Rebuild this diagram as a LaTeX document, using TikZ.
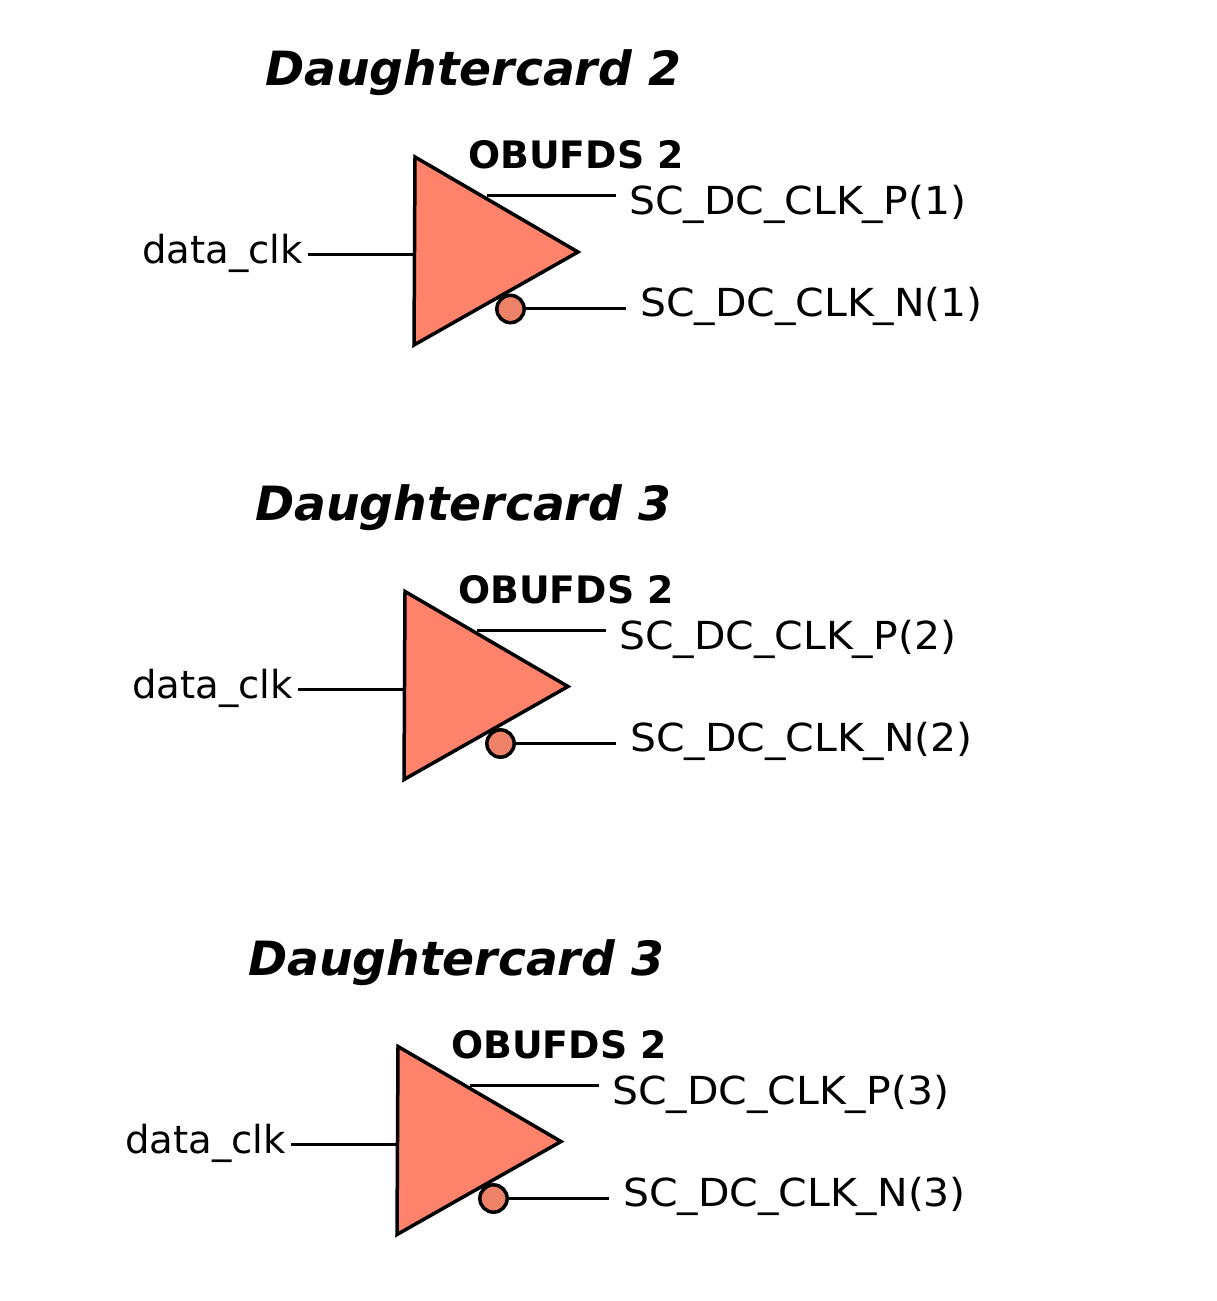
\documentclass[tikz,border=0pt]{standalone}
\usepackage{fontspec}
\setmainfont{DejaVu Sans}
\definecolor{tri}{HTML}{FF826B}
\definecolor{bub}{HTML}{EE8269}
\tikzset{x=0.75pt,y=-0.75pt,
 wire/.style={line width=3pt*0.75},
 tribox/.style={draw=black,fill=tri,line width=3.5pt*0.75,line join=miter},
 bubble/.style={circle,draw=black,fill=bub,line width=3.5pt*0.75,minimum size=20.5pt,inner sep=0pt},
 title/.style={font=\fontsize{47.2pt}{52pt}\selectfont\bfseries\itshape,inner sep=0pt,anchor=base west,scale=0.75},
 gate/.style={font=\fontsize{37.8pt}{42pt}\selectfont\bfseries,inner sep=0pt,anchor=base west,scale=0.75},
 clk/.style={font=\fontsize{38.6pt}{44pt}\selectfont,inner sep=0pt,anchor=base west,scale=0.75},
 sig/.style={font=\fontsize{38.6pt}{44pt}\selectfont,inner sep=0pt,anchor=base west,xscale=0.795,yscale=0.75}}
\newcommand{\buf}[5]{%
 % #1 prefix, #2 dx, #3 dy, #4 title, #5 index
 \begin{scope}[shift={(#2,#3)}]
 \node[title] (#1t) at (265,86) {#4};
 \node[gate] (#1g) at (468,169) {OBUFDS 2};
 \node[clk] (#1c) at (142,264) {data\_clk};
 \node[sig] (#1p) at (629,215) {SC\_DC\_CLK\_P(#5)};
 \node[sig] (#1n) at (640,317) {SC\_DC\_CLK\_N(#5)};
 \coordinate (#1a) at (308,255);
 \coordinate (#1b) at (415,255);
 \coordinate (#1c1) at (487,196);
 \coordinate (#1c2) at (616,196);
 \coordinate (#1d2) at (626,309);
 \draw[wire] (#1a) -- (#1b);
 \draw[tribox] (415,157) -- (578,252) -- (414,345) -- cycle;
 \draw[wire] (#1c1) -- (#1c2);
 \node[bubble] (#1o) at (510.5,309) {};
 \draw[wire] (#1o.east) -- (#1d2);
 \end{scope}}
\begin{document}
\begin{tikzpicture}
\useasboundingbox (0,0) rectangle (1216,1301);
\buf{a}{0}{0}{Daughtercard 2}{1}
\buf{b}{-10}{434.5}{Daughtercard 3}{2}
\buf{c}{-17}{889.5}{Daughtercard 3}{3}
\end{tikzpicture}
\end{document}
